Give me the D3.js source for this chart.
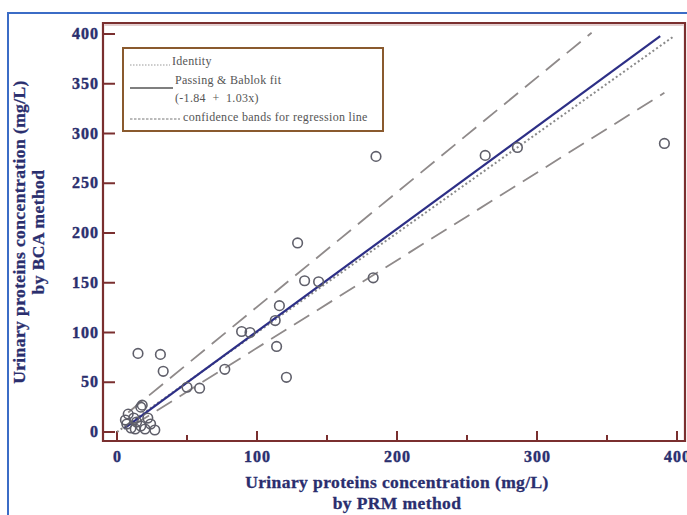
<!DOCTYPE html>
<html><head><meta charset="utf-8">
<script src="https://cdn.jsdelivr.net/npm/d3@7"></script>
<style>body{margin:0;background:#fff;}svg{display:block;}</style>
</head><body>
<script>
const xTicks = [0,100,200,300,400];
const xMinor = [50,150,250,350];
const yTicks = [0,50,100,150,200,250,300,350,400];
const prm = [391,263,286,185,129,183,134,144,116,113,15,31,33,50,59,77,89,95,114,121,8,6,7,10,13,17,20,24,27,17,18,12,14,22];
const bca = [290,278,286,277,190,155,152,151,127,112,79,78,61,45,44,63,101,100,86,55,18,12,8,4,3,6,3,8,2,25,27,14,10,14];
const fitIntercept = -1.84, fitSlope = 1.03;
const fitRange = [5, 388];
const identityRange = [0, 397];
const upperBand = {a:10.4, b:1.153, range:[8,339]};
const lowerBand = {a:-3.6, b:0.881, range:[12,391]};
const legendItems = ["Identity","Passing & Bablok fit","(-1.84  +  1.03x)","confidence bands for regression line"];

const W=687,H=515;
const svg=d3.select("body").append("svg").attr("width",W).attr("height",H);
svg.append("rect").attr("x",8).attr("y",13).attr("width",W).attr("height",H).attr("fill","#fff").attr("stroke","#3b6cc6").attr("stroke-width",2);

const x=d3.scaleLinear().domain([0,400]).range([117,677]);
const y=d3.scaleLinear().domain([0,400]).range([432,34]);
const L=103,R=685,T=23,B=441;
const axisCol="#7a2f2f";
svg.append("path").attr("d",`M${L},${B}H${R}V${T}H${L}Z`).attr("fill","none").attr("stroke",axisCol).attr("stroke-width",2.2);
svg.append("path").attr("d",`M${L+1.5},${T+2}H${R-1.5}`).attr("stroke","#c9a0a0").attr("stroke-width",1);
const g=svg.append("g");
yTicks.forEach(t=>{g.append("line").attr("x1",L).attr("x2",L+12).attr("y1",y(t)).attr("y2",y(t)).attr("stroke",axisCol).attr("stroke-width",2);});
xTicks.forEach(t=>{g.append("line").attr("x1",x(t)).attr("x2",x(t)).attr("y1",B).attr("y2",B-10).attr("stroke",axisCol).attr("stroke-width",2);});
xMinor.forEach(t=>{g.append("line").attr("x1",x(t)).attr("x2",x(t)).attr("y1",B).attr("y2",B-6).attr("stroke",axisCol).attr("stroke-width",2);});
const lblCol="#2a2e6e";
const tick=(s)=>s.attr("font-family","Liberation Serif, serif").attr("font-weight","bold").attr("font-size",16).attr("letter-spacing",1).attr("fill",lblCol).attr("stroke",lblCol).attr("stroke-width",0.4);
yTicks.forEach(t=>{tick(svg.append("text").attr("x",99).attr("y",y(t)+5).attr("text-anchor","end")).text(t);});
xTicks.forEach(t=>{tick(svg.append("text").attr("x",x(t)+0.5).attr("y",462).attr("text-anchor","middle")).text(t);});
const tf=(s,xx,yy,rot)=>svg.append("text").attr("transform",`translate(${xx},${yy})${rot?" rotate(-90)":""}`).attr("text-anchor","middle").attr("font-family","Liberation Serif, serif").attr("font-weight","bold").attr("font-size",17.5).attr("letter-spacing",0.4).attr("fill",lblCol).attr("stroke",lblCol).attr("stroke-width",0.3).text(s);
tf("Urinary proteins concentration (mg/L)",397,488,false);
tf("by PRM method",397,509,false);
tf("Urinary proteins concentration (mg/L)",25,232,true);
tf("by BCA method",44,232,true);

const line=d3.line().x(d=>x(d[0])).y(d=>y(d[1]));
const seg=(f,r)=>[[r[0],f(r[0])],[r[1],f(r[1])]];
svg.append("path").attr("d",line(seg(v=>upperBand.a+upperBand.b*v,upperBand.range))).attr("stroke","#8f8a8a").attr("stroke-width",1.8).attr("stroke-dasharray","18,9").attr("fill","none");
svg.append("path").attr("d",line(seg(v=>lowerBand.a+lowerBand.b*v,lowerBand.range))).attr("stroke","#8f8a8a").attr("stroke-width",1.8).attr("stroke-dasharray","18,9").attr("fill","none");
svg.append("path").attr("d",line(seg(v=>v,identityRange))).attr("stroke","#8a8a8a").attr("stroke-width",2).attr("stroke-dasharray","2,2.5").attr("fill","none");
svg.append("path").attr("d",line(seg(v=>fitIntercept+fitSlope*v,fitRange))).attr("stroke","#2d2f86").attr("stroke-width",2.2).attr("fill","none");

svg.append("g").selectAll("circle").data(prm.map((p,i)=>[p,bca[i]])).join("circle")
 .attr("cx",d=>x(d[0])).attr("cy",d=>y(d[1])).attr("r",4.8).attr("fill","none").attr("stroke","#5f5f6a").attr("stroke-width",1.6);

const lg=svg.append("g");
lg.append("rect").attr("x",123).attr("y",48).attr("width",260).attr("height",83).attr("fill","#fff").attr("stroke","#8a5a2e").attr("stroke-width",2);
const lt=(s,xx,yy)=>lg.append("text").attr("x",xx).attr("y",yy).attr("font-family","Liberation Serif, serif").attr("font-size",12).attr("letter-spacing",0.3).attr("fill","#555").style("white-space","pre").text(s);
lg.append("line").attr("x1",130).attr("x2",170).attr("y1",65).attr("y2",65).attr("stroke","#999").attr("stroke-width",1).attr("stroke-dasharray","1.5,1.5");
lt(legendItems[0],172,65);
lg.append("line").attr("x1",130).attr("x2",173).attr("y1",88).attr("y2",88).attr("stroke","#555").attr("stroke-width",1.5);
lt(legendItems[1],175,84);
lt(legendItems[2],175,102);
lg.append("line").attr("x1",130).attr("x2",180).attr("y1",119).attr("y2",119).attr("stroke","#777").attr("stroke-width",1).attr("stroke-dasharray","2.5,1.5");
lt(legendItems[3],183,121);
</script>
</body></html>
